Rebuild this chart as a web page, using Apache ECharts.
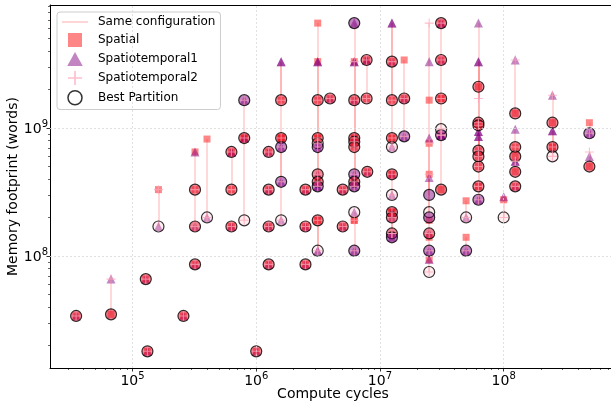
<!DOCTYPE html>
<html>
<head>
<meta charset="utf-8">
<script src="https://cdn.jsdelivr.net/npm/echarts@6/dist/echarts.min.js"></script>
<style>
html, body { margin: 0; padding: 0; background: #fff; }
#chart { width: 611px; height: 409px; }
</style>
</head>
<body>
<div id="chart"></div>
<script>
// one entry per configuration: compute cycles and memory footprint (words) of each partition
const cycles = [
    3.5e4, 6.7e4, 1.28e5, 1.32e5, 1.62e5, 2.58e5, 3.2e5, 3.2e5, 3.2e5, 4.0e5, 6.3e5, 6.3e5, 6.3e5, 8.0e5, 8.0e5, 8.0e5, 1.0e6,
    1.26e6, 1.26e6, 1.26e6, 1.26e6,
    1.59e6, 1.59e6, 1.59e6, 1.59e6, 1.59e6,
    2.5e6, 2.5e6, 2.5e6,
    3.14e6, 3.14e6, 3.14e6, 3.14e6, 3.14e6, 3.14e6, 3.14e6, 3.14e6, 3.14e6,
    3.95e6,
    5.0e6, 5.0e6,
    6.2e6, 6.2e6, 6.2e6, 6.2e6, 6.2e6, 6.2e6, 6.2e6, 6.2e6, 6.2e6, 6.2e6,
    7.8e6, 7.8e6, 7.9e6,
    1.25e7, 1.25e7, 1.25e7, 1.25e7, 1.25e7, 1.25e7, 1.25e7, 1.25e7, 1.25e7, 1.25e7,
    1.57e7, 1.57e7,
    2.5e7, 2.5e7, 2.5e7, 2.5e7, 2.5e7, 2.5e7,
    3.12e7, 3.12e7, 3.12e7, 3.12e7, 3.12e7, 3.12e7,
    4.97e7, 4.97e7,
    6.25e7, 6.25e7, 6.25e7, 6.25e7, 6.25e7, 6.25e7, 6.25e7, 6.25e7,
    1.0e8,
    1.24e8, 1.24e8, 1.24e8, 1.24e8, 1.24e8,
    2.48e8, 2.48e8, 2.48e8,
    4.93e8, 4.93e8
]
const spatialMem = [
    3.4e7, 3.5e7, 6.6e7, 1.8e7, 3.3e8, 3.4e7, 6.5e8, 3.3e8, 8.6e7, 8.2e8, 6.5e8, 3.3e8, 1.7e8, 8.35e8, 8.35e8, 8.35e8, 1.8e7,
    6.5e8, 3.3e8, 1.7e8, 8.6e7,
    1.65e9, 8.35e8, 8.35e8, 8.35e8, 8.35e8,
    3.3e8, 1.7e8, 8.6e7,
    6.6e9, 3.3e9, 1.65e9, 8.35e8, 8.35e8, 3.8e8, 8.35e8, 1.9e8, 1.9e8,
    1.7e9,
    3.3e8, 1.7e8,
    3.3e9, 1.65e9, 8.35e8, 7.8e8, 7.1e8, 8.35e8, 3.8e8, 8.35e8, 1.9e8, 1.9e8,
    3.4e9, 1.7e9, 4.55e8,
    3.3e9, 1.65e9, 8.35e8, 8.35e8, 4.35e8, 4.35e8, 2.2e8, 2.2e8, 2.2e8, 2.2e8,
    3.4e9, 1.7e9,
    1.65e9, 7.6e8, 4.35e8, 1.9e8, 1.4e8, 9.4e7,
    6.6e9, 3.4e9, 1.7e9, 1.7e9, 8.8e8, 3.3e8,
    2.7e8, 1.4e8,
    2.1e9, 1.1e9, 1.05e9, 6.65e8, 6.0e8, 5.0e8, 3.5e8, 3.5e8,
    2.75e8,
    1.3e9, 7.1e8, 6.0e8, 4.55e8, 3.5e8,
    1.1e9, 7.1e8, 7.1e8,
    1.1e9, 5.0e8
]
const st1Mem = [
    3.4e7, 6.6e7, 6.6e7, 1.8e7, 1.7e8, 3.4e7, 6.5e8, 1.7e8, 8.6e7, 2.0e8, 6.5e8, 6.5e8, 1.7e8, 1.65e9, 8.35e8, 8.35e8, 1.8e7,
    6.5e8, 3.3e8, 1.7e8, 8.6e7,
    3.3e9, 3.3e9, 7.1e8, 3.8e8, 1.9e8,
    3.3e8, 1.7e8, 8.6e7,
    3.3e9, 3.3e9, 7.6e8, 7.1e8, 4.35e8, 3.5e8, 3.5e8, 1.1e8, 1.1e8,
    1.7e9,
    3.3e8, 1.7e8,
    6.6e9, 3.3e9, 3.3e9, 1.65e9, 8.35e8, 4.35e8, 3.8e8, 3.5e8, 2.2e8, 1.1e8,
    3.4e9, 3.4e9, 4.55e8,
    6.6e9, 6.6e9, 3.3e9, 7.1e8, 4.35e8, 3.0e8, 2.2e8, 2.0e8, 1.5e8, 1.4e8,
    1.7e9, 8.6e8,
    3.3e9, 8.35e8, 4.1e8, 1.5e8, 1.1e8, 9.4e7,
    6.6e9, 6.6e9, 3.4e9, 8.8e8, 8.8e8, 8.8e8,
    2.0e8, 1.1e8,
    6.6e9, 3.3e9, 3.3e9, 9.4e8, 8.6e8, 8.6e8, 9.4e8, 2.75e8,
    2.9e8,
    3.4e9, 9.8e8, 5.5e8, 5.5e8, 3.5e8,
    1.8e9, 9.5e8, 9.5e8,
    9.1e8, 6.0e8
]
const st2Mem = [
    3.4e7, 6.6e7, 6.6e7, 1.8e7, 3.3e8, 3.4e7, 3.3e8, 1.7e8, 8.6e7, 2.0e8, 6.5e8, 3.3e8, 1.7e8, 1.65e9, 8.35e8, 1.9e8, 1.8e7,
    6.5e8, 3.3e8, 1.7e8, 8.6e7,
    1.65e9, 8.35e8, 7.1e8, 3.8e8, 1.9e8,
    3.3e8, 1.7e8, 8.6e7,
    1.65e9, 8.35e8, 7.6e8, 7.1e8, 4.35e8, 3.8e8, 3.5e8, 1.9e8, 1.1e8,
    1.7e9,
    3.3e8, 1.7e8,
    3.3e9, 1.65e9, 8.35e8, 7.8e8, 7.1e8, 4.35e8, 3.8e8, 3.5e8, 1.9e8, 1.1e8,
    3.4e9, 1.7e9, 4.55e8,
    3.3e9, 1.65e9, 8.35e8, 7.1e8, 4.35e8, 3.0e8, 2.2e8, 2.0e8, 1.5e8, 1.5e8,
    1.7e9, 8.6e8,
    6.6e9, 7.6e8, 4.35e8, 1.5e8, 1.1e8, 7.5e7,
    6.6e9, 3.4e9, 1.7e9, 9.8e8, 8.8e8, 8.8e8,
    2.0e8, 1.1e8,
    1.7e9, 1.1e9, 1.05e9, 6.65e8, 6.0e8, 5.0e8, 3.5e8, 2.75e8,
    2.0e8,
    3.4e9, 7.1e8, 5.5e8, 5.5e8, 3.5e8,
    1.8e9, 7.1e8, 6.0e8,
    9.1e8, 6.5e8
]
const bestMem = [
    3.4e7, 3.5e7, 6.6e7, 1.8e7, 1.7e8, 3.4e7, 3.3e8, 1.7e8, 8.6e7, 2.0e8, 6.5e8, 3.3e8, 1.7e8, 1.65e9, 8.35e8, 1.9e8, 1.8e7,
    6.5e8, 3.3e8, 1.7e8, 8.6e7,
    1.65e9, 8.35e8, 7.1e8, 3.8e8, 1.9e8,
    3.3e8, 1.7e8, 8.6e7,
    1.65e9, 8.35e8, 7.6e8, 7.1e8, 4.35e8, 3.8e8, 3.5e8, 1.9e8, 1.1e8,
    1.7e9,
    3.3e8, 1.7e8,
    6.6e9, 1.65e9, 8.35e8, 7.8e8, 7.1e8, 4.35e8, 3.8e8, 3.5e8, 2.2e8, 1.1e8,
    3.4e9, 1.7e9, 4.55e8,
    3.3e9, 1.65e9, 8.35e8, 7.1e8, 4.35e8, 3.0e8, 2.2e8, 2.0e8, 1.5e8, 1.4e8,
    1.7e9, 8.6e8,
    3.0e8, 2.2e8, 2.0e8, 1.5e8, 1.1e8, 7.5e7,
    6.6e9, 3.4e9, 1.7e9, 9.8e8, 8.8e8, 3.3e8,
    2.0e8, 1.1e8,
    2.1e9, 1.1e9, 1.05e9, 6.65e8, 6.0e8, 5.0e8, 3.5e8, 2.75e8,
    2.0e8,
    1.3e9, 7.1e8, 6.0e8, 4.55e8, 3.5e8,
    1.1e9, 7.1e8, 6.0e8,
    9.1e8, 5.0e8
]
// which partition won: S spatial, T spatiotemporal1, P spatiotemporal2
const bestKind = [
    'S', 'S', 'S', 'S', 'P', 'S', 'S', 'S', 'S', 'P', 'S', 'S', 'S', 'T', 'S', 'P', 'S',
    'S', 'S', 'S', 'S',
    'S', 'S', 'T', 'T', 'P',
    'S', 'S', 'S',
    'S', 'S', 'P', 'T', 'S', 'S', 'T', 'S', 'P',
    'S',
    'S', 'S',
    'T', 'S', 'S', 'S', 'S', 'T', 'S', 'T', 'P', 'T',
    'S', 'S', 'S',
    'S', 'S', 'S', 'P', 'S', 'P', 'S', 'S', 'S', 'T',
    'S', 'T',
    'T', 'P', 'T', 'S', 'T', 'P',
    'S', 'S', 'S', 'P', 'T', 'S',
    'P', 'T',
    'S', 'S', 'S', 'S', 'S', 'S', 'S', 'T',
    'P',
    'S', 'S', 'S', 'S', 'S',
    'S', 'S', 'P',
    'T', 'S'
]
// decade exponents that get a label
const xTickExp = [5, 6, 7, 8]
const yTickExp = [8, 9]

const L = Math.log10
const xMin = 4.333, xMax = 8.908
const yMin = 7.125, yMax = 9.961
const font = 'DejaVu Sans'

const colSpatial = 'rgba(255,40,40,0.7)'
const colSt1 = 'rgba(128,0,128,0.6)'
const colSt2 = 'rgba(255,165,185,0.9)'
const colLine = 'rgba(255,0,0,0.2)'
const bestFill = { S: 'rgba(225,20,45,0.65)', T: 'rgba(128,0,128,0.6)', P: 'rgba(255,182,193,0.3)' }
const plusPath = 'path://M4.4,0H5.6V10H4.4Z M0,4.4H10V5.6H0Z'

// minor ticks at 2..9 x 10^n
function minorTicks (lo, hi) {
    const out = []
    for (let n = Math.floor(lo); n <= Math.ceil(hi); n++) {
        for (let k = 2; k <= 9; k++) {
            const v = n + L(k)
            if (v > lo && v < hi) out.push(v)
        }
    }
    return out
}

const supLabel = {
    formatter: v => '{b|10}{s|' + Math.round(v) + '}',
    rich: {
        b: { fontSize: 14, fontFamily: font, color: '#000', lineHeight: 17, verticalAlign: 'bottom' },
        s: { fontSize: 10, fontFamily: font, color: '#000', lineHeight: 17, verticalAlign: 'top' }
    }
}

function pts (ys) {
    return cycles.map((c, i) => [L(c), L(ys[i])])
}

const chart = echarts.init(document.getElementById('chart'), null, { renderer: 'canvas' })

const option = {
    animation: false,
    backgroundColor: '#fff',
    grid: { left: 50, top: 5, right: -5, bottom: 41, containLabel: false, outerBoundsMode: 'none' },
    legend: {
        left: 57,
        top: 12,
        orient: 'vertical',
        selectedMode: false,
        itemWidth: 26,
        itemHeight: 14,
        itemGap: 5,
        padding: [4, 5, 4, 5],
        backgroundColor: 'rgba(255,255,255,0.8)',
        borderColor: '#cccccc',
        borderWidth: 1,
        borderRadius: 3,
        textStyle: { fontFamily: font, fontSize: 12, color: '#000', padding: [0, 0, 0, 5] },
        data: [
            { name: 'Same configuration', icon: 'path://M0,0H26V1.5H0Z', itemStyle: { color: 'rgba(255,0,0,0.22)', borderWidth: 0 }, lineStyle: { width: 0 } },
            { name: 'Spatial', icon: 'path://M0,0H10V10H0Z', itemStyle: { color: colSpatial } },
            { name: 'Spatiotemporal1', icon: 'path://M5,0L10,9L0,9Z', itemStyle: { color: colSt1 } },
            { name: 'Spatiotemporal2', icon: plusPath, itemStyle: { color: colSt2 } },
            { name: 'Best Partition', icon: 'circle', itemStyle: { color: 'rgba(255,255,255,0)', borderColor: '#000', borderWidth: 1.5 } }
        ]
    },
    xAxis: [
        {
            type: 'value', min: xMin, max: xMax, position: 'bottom',
            name: 'Compute cycles', nameLocation: 'middle', nameGap: 19, nameMoveOverlap: false,
            nameTextStyle: { fontFamily: font, fontSize: 14, color: '#000' },
            axisLine: { onZero: false, lineStyle: { color: '#000', width: 1 } },
            axisTick: { customValues: xTickExp, length: 3.5, lineStyle: { color: '#000', width: 0.8 } },
            axisLabel: Object.assign({ customValues: xTickExp, margin: 3 }, supLabel),
            splitLine: { show: false }
        },
        {
            type: 'value', min: xMin, max: xMax, position: 'bottom',
            axisLine: { show: false },
            axisTick: { customValues: minorTicks(xMin, xMax), length: 2, lineStyle: { color: '#000', width: 0.6 } },
            axisLabel: { show: false },
            splitLine: { show: false }
        },
        {
            type: 'value', min: xMin, max: xMax, position: 'top',
            axisLine: { onZero: false, lineStyle: { color: '#000', width: 1 } },
            axisTick: { show: false },
            axisLabel: { show: false },
            splitLine: { show: false }
        }
    ],
    yAxis: [
        {
            type: 'value', min: yMin, max: yMax, position: 'left',
            name: 'Memory footprint (words)', nameLocation: 'middle', nameGap: 30, nameMoveOverlap: false,
            nameTextStyle: { fontFamily: font, fontSize: 14, color: '#000' },
            axisLine: { show: true, onZero: false, lineStyle: { color: '#000', width: 1 } },
            axisTick: { show: true, customValues: yTickExp, length: 3.5, lineStyle: { color: '#000', width: 0.8 } },
            axisLabel: Object.assign({ customValues: yTickExp, margin: 2 }, supLabel),
            splitLine: { show: false }
        },
        {
            type: 'value', min: yMin, max: yMax, position: 'left',
            axisLine: { show: false },
            axisTick: { show: true, customValues: minorTicks(yMin, yMax), length: 2, lineStyle: { color: '#000', width: 0.6 } },
            axisLabel: { show: false },
            splitLine: { show: false }
        }
    ],
    series: [
        {
            // grid lines at the decades
            name: 'grid',
            type: 'scatter',
            data: [],
            z: 0,
            silent: true,
            markLine: {
                silent: true,
                symbol: ['none', 'none'],
                label: { show: false },
                lineStyle: { color: '#d9d9d9', width: 0.8, type: [2, 2] },
                emphasis: { disabled: true },
                data: xTickExp.map(v => ({ xAxis: v })).concat(yTickExp.map(v => ({ yAxis: v })))
            }
        },
        {
            name: 'Same configuration',
            type: 'lines',
            coordinateSystem: 'cartesian2d',
            z: 1,
            silent: true,
            lineStyle: { color: colLine, width: 1.5, opacity: 1 },
            data: cycles.map((c, i) => {
                const ys = [spatialMem[i], st1Mem[i], st2Mem[i], bestMem[i]].map(L)
                return { coords: [[L(c), Math.min(...ys)], [L(c), Math.max(...ys)]] }
            })
        },
        {
            name: 'Spatial',
            type: 'scatter',
            symbol: 'rect',
            symbolSize: 7,
            z: 2,
            itemStyle: { color: colSpatial },
            data: pts(spatialMem)
        },
        {
            name: 'Spatiotemporal1',
            type: 'scatter',
            symbol: 'triangle',
            symbolSize: 9,
            z: 3,
            itemStyle: { color: colSt1 },
            data: pts(st1Mem)
        },
        {
            name: 'Best Partition',
            type: 'scatter',
            symbol: 'circle',
            symbolSize: 11,
            z: 4,
            itemStyle: { borderColor: '#000', borderWidth: 1.2 },
            data: cycles.map((c, i) => ({
                value: [L(c), L(bestMem[i])],
                itemStyle: { color: bestFill[bestKind[i]] }
            }))
        },
        {
            name: 'Spatiotemporal2',
            type: 'scatter',
            symbol: plusPath,
            symbolSize: 9,
            z: 5,
            itemStyle: { color: colSt2 },
            data: pts(st2Mem)
        }
    ]
}
chart.setOption(option)
</script>
</body>
</html>
